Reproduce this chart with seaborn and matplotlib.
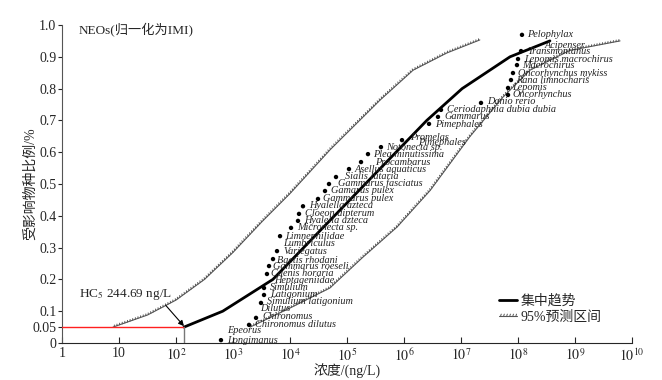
import numpy as np
import pandas as pd
import matplotlib
matplotlib.use("Agg")
import matplotlib.pyplot as plt
import matplotlib.patheffects as pe
from matplotlib.lines import Line2D
import seaborn as sns

# ---------------- data ----------------
# central trend (log10 concentration, fraction affected)
trend_log = [2.14, 2.82, 3.70, 5.05, 6.40, 7.02, 7.86, 8.56]
trend_frac = [0.05, 0.10, 0.20, 0.45, 0.70, 0.80, 0.90, 0.95]

# 95% prediction interval, upper and lower lines
upper_log = [0.895, 1.5, 2.0, 2.5, 3.0, 3.5, 4.0, 4.7, 5.58, 6.16, 6.75, 7.33]
upper_frac = [0.05, 0.088, 0.135, 0.20, 0.285, 0.38, 0.47, 0.607, 0.764, 0.858, 0.912, 0.953]
lower_log = [3.30, 4.0, 4.70, 5.28, 5.88, 6.46, 7.16, 7.74, 8.21, 8.91, 9.79]
lower_frac = [0.05, 0.11, 0.173, 0.27, 0.365, 0.48, 0.65, 0.774, 0.858, 0.92, 0.95]

# species points
dot_log = [2.789, 3.281, 3.404, 3.491, 3.544, 3.544, 3.596, 3.632, 3.702, 3.772,
           3.825, 4.018, 4.140, 4.158, 4.228, 4.491, 4.614, 4.684, 4.807, 5.035,
           5.246, 5.368, 5.596, 5.965, 6.439, 6.596, 6.649, 7.351, 7.825, 7.825,
           7.877, 7.912, 7.982, 8.000, 8.053, 8.070]
dot_frac = [0.009, 0.057, 0.079, 0.126, 0.151, 0.173, 0.217, 0.242, 0.264, 0.289,
            0.336, 0.362, 0.384, 0.406, 0.430, 0.453, 0.478, 0.500, 0.522, 0.547,
            0.569, 0.594, 0.616, 0.638, 0.689, 0.711, 0.733, 0.755, 0.780, 0.802,
            0.827, 0.849, 0.874, 0.893, 0.918, 0.969]

# species labels
label_text = ["Pelophylax", "Acipenser", "Transmontanus", "Lepomis macrochirus",
              "Macrochirus", "Oncorhynchus mykiss", "Rana limnocharis", "Lepomis",
              "Oncorhynchus", "Danio rerio", "Ceriodaphnia dubia dubia", "Gammarus",
              "Pimephales", "Promelas", "Pimephales", "Notonecta sp.",
              "Plea minutissima", "Procambarus", "Asellus aquaticus", "Sialis lutaria",
              "Gammarus fasciatus", "Gamarus pulex", "Gammarus pulex", "Hyalella azteca",
              "Cloeon dipterum", "Hyalella azteca", "Micronecta sp.", "Limnephilidae",
              "Lumbriculus", "Variegatus", "Baetis rhodani", "Gammarus roeseli",
              "Caenis horaria", "Heptageniidae", "Simulium", "Latigonium",
              "Simulium latigonium", "Dilutus", "Chironomus", "Chironomus dilutus",
              "Epeorus", "Longimanus"]
label_log = [8.158, 8.474, 8.158, 8.105, 8.070, 8.000, 7.965, 7.895, 7.895, 7.456,
             6.754, 6.702, 6.544, 6.105, 6.246, 5.684, 5.456, 5.491, 5.140, 4.965,
             4.842, 4.719, 4.579, 4.333, 4.263, 4.246, 4.123, 3.912, 3.877, 3.877,
             3.772, 3.702, 3.667, 3.719, 3.649, 3.649, 3.596, 3.474, 3.509, 3.386,
             2.895, 2.895]
label_frac = [0.969, 0.937, 0.918, 0.893, 0.874, 0.849, 0.827, 0.805, 0.780, 0.758,
              0.733, 0.711, 0.686, 0.645, 0.629, 0.616, 0.594, 0.569, 0.547, 0.525,
              0.503, 0.478, 0.453, 0.431, 0.406, 0.384, 0.362, 0.336, 0.314, 0.289,
              0.261, 0.239, 0.217, 0.195, 0.173, 0.151, 0.129, 0.110, 0.082, 0.057,
              0.038, 0.009]

hc5_conc = 138.0
hc5_frac = 0.05

x_ticks = [1, 10, 1e2, 1e3, 1e4, 1e5, 1e6, 1e7, 1e8, 1e9, 1e10]
x_ticklabels = ["1", "10"] + [r"$10^{%d}$" % k for k in range(2, 11)]
y_ticks = [0, 0.05, 0.1, 0.2, 0.3, 0.4, 0.5, 0.6, 0.7, 0.8, 0.9, 1.0]
y_ticklabels = ["0", "0.05", "0.1", "0.2", "0.3", "0.4", "0.5", "0.6", "0.7", "0.8", "0.9", "1.0"]

# ---------------- style ----------------
sns.set_style("ticks")
plt.rcParams["font.family"] = ["Liberation Serif", "Noto Sans CJK SC"]
plt.rcParams["mathtext.fontset"] = "stix"
plt.rcParams["axes.unicode_minus"] = False

fig = plt.figure(figsize=(6.62, 3.80), dpi=100)
ax = fig.add_axes([62 / 662, 37 / 380, 570 / 662, 318 / 380])

trend = pd.DataFrame({"conc": np.power(10.0, trend_log), "frac": trend_frac})
upper = pd.DataFrame({"conc": np.power(10.0, upper_log), "frac": upper_frac})
lower = pd.DataFrame({"conc": np.power(10.0, lower_log), "frac": lower_frac})
dots = pd.DataFrame({"conc": np.power(10.0, dot_log), "frac": dot_frac})

band_effects = [pe.withTickedStroke(spacing=2.0, length=0.6, angle=70, linewidth=0.7)]
band_kw = dict(color="#555555", linewidth=0.8, ax=ax, sort=False,
               path_effects=band_effects, estimator=None)
sns.lineplot(data=upper, x="conc", y="frac", **band_kw)
sns.lineplot(data=lower, x="conc", y="frac", **band_kw)
sns.lineplot(data=trend, x="conc", y="frac", color="black", linewidth=2.0,
             ax=ax, sort=False, estimator=None)
sns.scatterplot(data=dots, x="conc", y="frac", color="black", s=10,
                edgecolor="none", ax=ax, zorder=5)

for t, lx, ly in zip(label_text, label_log, label_frac):
    ax.text(10 ** lx, ly, t, fontsize=7.4, style="italic", ha="left",
            va="center", color="#222222", zorder=6)

# HC5 markers
ax.plot([1, hc5_conc], [hc5_frac, hc5_frac], color="#ff2020", linewidth=1.0, zorder=4)
ax.plot([hc5_conc, hc5_conc], [0, hc5_frac], color="#777777", linewidth=1.0, zorder=4)
ax.annotate(r"HC$_5$ 244.69 ng/L", xy=(hc5_conc, hc5_frac + 0.003),
            xytext=(2.0, 0.152), fontsize=9.5, ha="left", va="center",
            arrowprops=dict(arrowstyle="-|>", color="black", lw=0.8,
                            shrinkA=0, shrinkB=0, mutation_scale=8,
                            relpos=(0.9, 0.0)))

ax.text(1.95, 0.985, "NEOs(归一化为IMI)", fontsize=9.5, ha="left", va="center")

ax.set_xscale("log")
ax.set_xlim(1, 1e10)
ax.set_ylim(0, 1.0)
ax.set_xticks(x_ticks)
ax.set_xticklabels(x_ticklabels)
ax.xaxis.set_minor_locator(matplotlib.ticker.NullLocator())
ax.set_yticks(y_ticks)
ax.set_yticklabels(y_ticklabels)
ax.tick_params(axis="x", direction="in", length=4, labelsize=10, pad=3)
ax.tick_params(axis="y", direction="out", length=3, labelsize=10, pad=1)
for s in ["top", "right"]:
    ax.spines[s].set_visible(False)
ax.spines["left"].set_color("#555555")
ax.set_xlabel("浓度/(ng/L)", fontsize=10, labelpad=0)
ax.set_ylabel("受影响物种比例/%", fontsize=10)
ax.yaxis.set_label_coords(-0.043, 0.5)

handles = [Line2D([], [], color="black", linewidth=2.0),
           Line2D([], [], color="#555555", linewidth=0.8, path_effects=band_effects)]
ax.legend(handles, ["集中趋势", "95%预测区间"], loc="upper left",
          bbox_to_anchor=(0.755, 0.175), frameon=False, fontsize=10,
          handlelength=1.3, handletextpad=0.2, labelspacing=0.2, borderpad=0)

fig.savefig("out.png", dpi=100)
